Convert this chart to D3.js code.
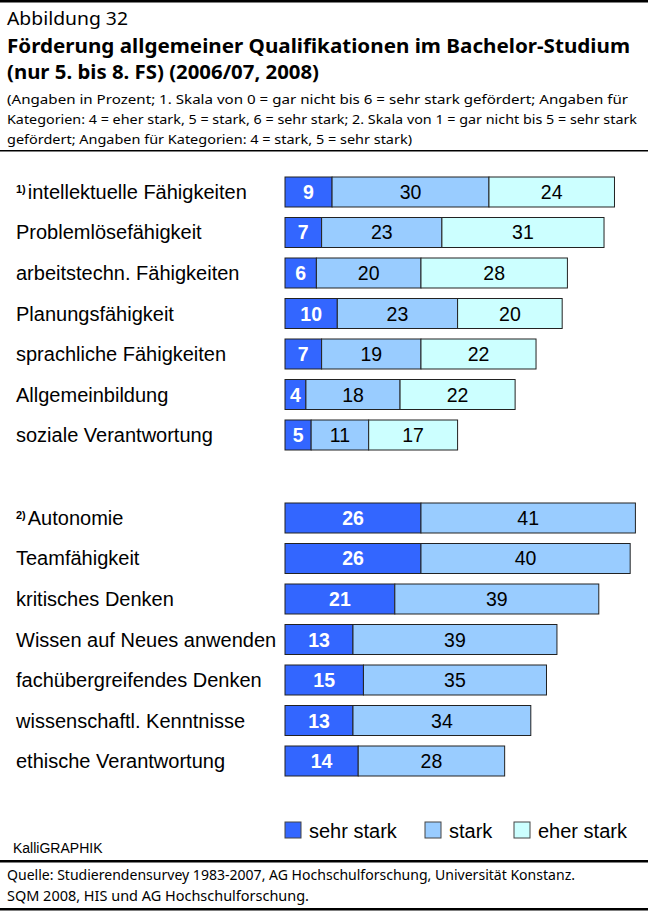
<!DOCTYPE html>
<html>
<head>
<meta charset="utf-8">
<script src="https://cdn.jsdelivr.net/npm/d3@7"></script>
<style>
  body { margin: 0; background: #fff; }
  svg { display: block; }
  .hd { font-family: "Noto Sans", "Open Sans", sans-serif; fill: #000; }
  .ar { font-family: "Liberation Sans", Arial, sans-serif; fill: #000; }
</style>
</head>
<body>
<div id="chart"></div>
<script>
// Gruppe 1: Skala 0-6
var topCats = ["intellektuelle Fähigkeiten", "Problemlösefähigkeit", "arbeitstechn. Fähigkeiten",
               "Planungsfähigkeit", "sprachliche Fähigkeiten", "Allgemeinbildung", "soziale Verantwortung"];
var topSehr  = [9, 7, 6, 10, 7, 4, 5];
var topStark = [30, 23, 20, 23, 19, 18, 11];
var topEher  = [24, 31, 28, 20, 22, 22, 17];

// Gruppe 2: Skala 1-5
var botCats = ["Autonomie", "Teamfähigkeit", "kritisches Denken", "Wissen auf Neues anwenden",
               "fachübergreifendes Denken", "wissenschaftl. Kenntnisse", "ethische Verantwortung"];
var botSehr  = [26, 26, 21, 13, 15, 13, 14];
var botStark = [41, 40, 39, 39, 35, 34, 28];

var legendNames = ["sehr stark", "stark", "eher stark"];
var colors = ["#3366FF", "#99CCFF", "#CCFFFF"];

var width = 648, height = 915;

var svg = d3.select("#chart").append("svg")
    .attr("width", width)
    .attr("height", height);

// header
var header = [
  {t: "Abbildung 32", y: 25, size: 18, w: "normal", len: 121},
  {t: "Förderung allgemeiner Qualifikationen im Bachelor-Studium", y: 53, size: 19, w: "bold", len: 623},
  {t: "(nur 5. bis 8. FS) (2006/07, 2008)", y: 79, size: 19, w: "bold", len: 312},
  {t: "(Angaben in Prozent; 1. Skala von 0 = gar nicht bis 6 = sehr stark gefördert; Angaben für", y: 104, size: 13, w: "normal", len: 621},
  {t: "Kategorien: 4 = eher stark, 5 = stark, 6 = sehr stark;  2. Skala von 1 = gar nicht bis 5 = sehr stark", y: 124, size: 13, w: "normal", len: 630},
  {t: "gefördert; Angaben für Kategorien: 4 = stark, 5 = sehr stark)", y: 144, size: 13, w: "normal", len: 405}
];
svg.selectAll("text.head").data(header).enter().append("text")
    .attr("class", "hd head")
    .attr("x", 7)
    .attr("y", function(d) { return d.y; })
    .style("font-size", function(d) { return d.size + "px"; })
    .style("font-weight", function(d) { return d.w; })
    .attr("textLength", function(d) { return d.len; })
    .attr("lengthAdjust", "spacingAndGlyphs")
    .text(function(d) { return d.t; });

// rules
svg.append("rect").attr("x", 0).attr("y", 0).attr("width", width).attr("height", 2.5).attr("fill", "#000");
svg.append("rect").attr("x", 0).attr("y", 150).attr("width", width).attr("height", 1.5).attr("fill", "#000");
svg.append("rect").attr("x", 0).attr("y", 860).attr("width", width).attr("height", 2.5).attr("fill", "#000");
svg.append("rect").attr("x", 0).attr("y", 908).attr("width", width).attr("height", 2.5).attr("fill", "#000");

var x = d3.scaleLinear().domain([0, 67]).range([285, 285 + 350.4]);

function drawGroup(cats, series, y0, note) {
    var y = d3.scaleBand().domain(cats)
        .range([y0, y0 + 273])
        .paddingInner(0.2593)
        .paddingOuter(0);

    var g = svg.append("g");

    cats.forEach(function(c, i) {
        var lab = g.append("text").attr("class", "ar")
            .attr("x", 16)
            .attr("y", y(c) + y.bandwidth() / 2 + 7)
            .style("font-size", "20px");
        if (i === 0) {
            lab.append("tspan").style("font-size", "11px").style("font-weight", "bold")
                .attr("dy", -6).text(note);
            lab.append("tspan").attr("dy", 6).attr("dx", 2).text(c);
        } else {
            lab.text(c);
        }

        var start = 0;
        series.forEach(function(s, k) {
            var v = s[i];
            g.append("rect")
                .attr("x", x(start))
                .attr("y", y(c))
                .attr("width", x(start + v) - x(start))
                .attr("height", y.bandwidth())
                .attr("fill", colors[k])
                .attr("stroke", "#222")
                .attr("stroke-width", 1);
            g.append("text").attr("class", "ar")
                .attr("x", (x(start) + x(start + v)) / 2)
                .attr("y", y(c) + y.bandwidth() / 2 + 7)
                .attr("text-anchor", "middle")
                .style("font-size", "19.5px")
                .style("font-weight", k === 0 ? "bold" : "normal")
                .style("fill", k === 0 ? "#fff" : "#000")
                .text(v);
            start += v;
        });
    });
}

drawGroup(topCats, [topSehr, topStark, topEher], 177, "1)");
drawGroup(botCats, [botSehr, botStark], 503, "2)");

// legend
var legX = [285, 425, 514];
var leg = svg.append("g");
legendNames.forEach(function(n, i) {
    leg.append("rect")
        .attr("x", legX[i]).attr("y", 822)
        .attr("width", 16).attr("height", 16)
        .attr("fill", colors[i])
        .attr("stroke", "#444").attr("stroke-width", 1);
    leg.append("text").attr("class", "ar")
        .attr("x", legX[i] + 24).attr("y", 838)
        .style("font-size", "20px")
        .text(n);
});

svg.append("text").attr("class", "ar")
    .attr("x", 13).attr("y", 853)
    .style("font-size", "14px")
    .text("KalliGRAPHIK");

var source = [
  {t: "Quelle:  Studierendensurvey 1983-2007, AG Hochschulforschung, Universität Konstanz.", y: 880, len: 568},
  {t: "SQM 2008, HIS und AG Hochschulforschung.", y: 901, len: 302}
];
svg.selectAll("text.src").data(source).enter().append("text")
    .attr("class", "hd src")
    .attr("x", 7)
    .attr("y", function(d) { return d.y; })
    .style("font-size", "14px")
    .attr("textLength", function(d) { return d.len; })
    .attr("lengthAdjust", "spacingAndGlyphs")
    .text(function(d) { return d.t; });
</script>
</body>
</html>
